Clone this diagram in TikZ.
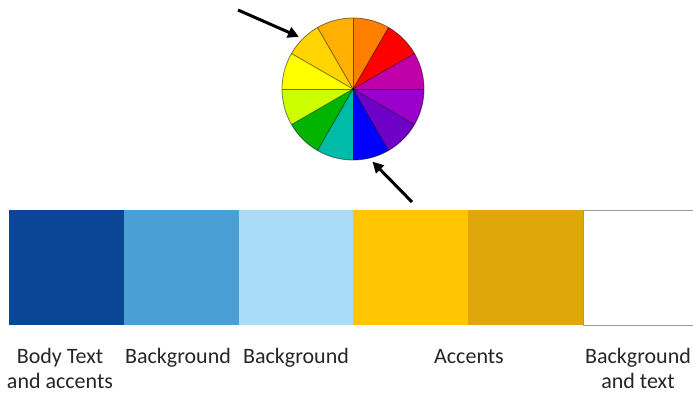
\documentclass[tikz,border=0pt]{standalone}
\usepackage{fontspec}
\setmainfont{Carlito}
\usetikzlibrary{arrows.meta}
\definecolor{cA}{HTML}{0B4595}
\definecolor{cB}{HTML}{4A9FD4}
\definecolor{cC}{HTML}{A9DCF7}
\definecolor{cD}{HTML}{FFC600}
\definecolor{cE}{HTML}{E0A70A}
\definecolor{txt}{HTML}{262626}
\definecolor{w1}{HTML}{FF8000}
\definecolor{w2}{HTML}{FF0000}
\definecolor{w3}{HTML}{C000A8}
\definecolor{w4}{HTML}{9A00CC}
\definecolor{w5}{HTML}{6E00C8}
\definecolor{w6}{HTML}{0000FF}
\definecolor{w7}{HTML}{00BBA8}
\definecolor{w8}{HTML}{00B400}
\definecolor{w9}{HTML}{CCFF00}
\definecolor{w10}{HTML}{FFFF00}
\definecolor{w11}{HTML}{FFD400}
\definecolor{w12}{HTML}{FFB000}
\tikzset{
  swatch/.style={minimum width=115pt,minimum height=115pt,inner sep=0,outer sep=0,anchor=north west},
  lbl/.style={font=\fontsize{22}{25}\selectfont,text=txt,align=center,anchor=base,inner sep=0},
  pointer/.style={line width=3pt,-{Triangle[length=11pt,width=11pt]}},
  slice/.style={draw=black,draw opacity=0.5,line width=0.8pt}
}
\begin{document}
\begin{tikzpicture}[x=1pt,y=-1pt]
\useasboundingbox (0,0) rectangle (693,393);
\clip (0,0) rectangle (693,393);
% swatches
\node[swatch,fill=cA] (s1) at (9,210) {};
\node[swatch,fill=cB] (s2) at (124,210) {};
\node[swatch,fill=cC] (s3) at (239,210) {};
\node[swatch,fill=cD] (s4) at (353,210) {};
\node[swatch,fill=cE] (s5) at (468,210) {};
\node[swatch,fill=white,draw=black!40,line width=0.8pt] (s6) at (583,210) {};
% labels
\node[lbl] (l1) at (60,388) {Body Text\\and accents};
\node[lbl] (l2) at (178,363) {Background};
\node[lbl] (l3) at (296,363) {Background};
\node[lbl] (l4) at (469,363) {Accents};
\node[lbl] (l5) at (638,388) {Background\\and text};
% colour wheel
\coordinate (c) at (353,89);
\foreach \i/\col in {1/w1,2/w2,3/w3,4/w4,5/w5,6/w6,7/w7,8/w8,9/w9,10/w10,11/w11,12/w12}{
  \pgfmathsetmacro{\a}{90-30*(\i-1)}
  \pgfmathsetmacro{\b}{90-30*\i}
  \fill[\col] (c) -- ++(\a:71 and -71) arc[start angle=\a,end angle=\b,x radius=71,y radius=-71] -- cycle;
}
\foreach \i in {0,...,11}{
  \draw[slice] (c) -- ++(30*\i:71 and -71);
}
\draw[slice] (c) circle[x radius=71,y radius=-71];
\node[circle,minimum size=150pt,inner sep=0,draw=none] (wheel) at (c) {};
% arrows
\coordinate (t1) at (238,10);
\coordinate (t2) at (412,202);
\draw[pointer] (t1) -- (wheel.136);
\draw[pointer] (t2) -- (wheel.-75);
\end{tikzpicture}
\end{document}
